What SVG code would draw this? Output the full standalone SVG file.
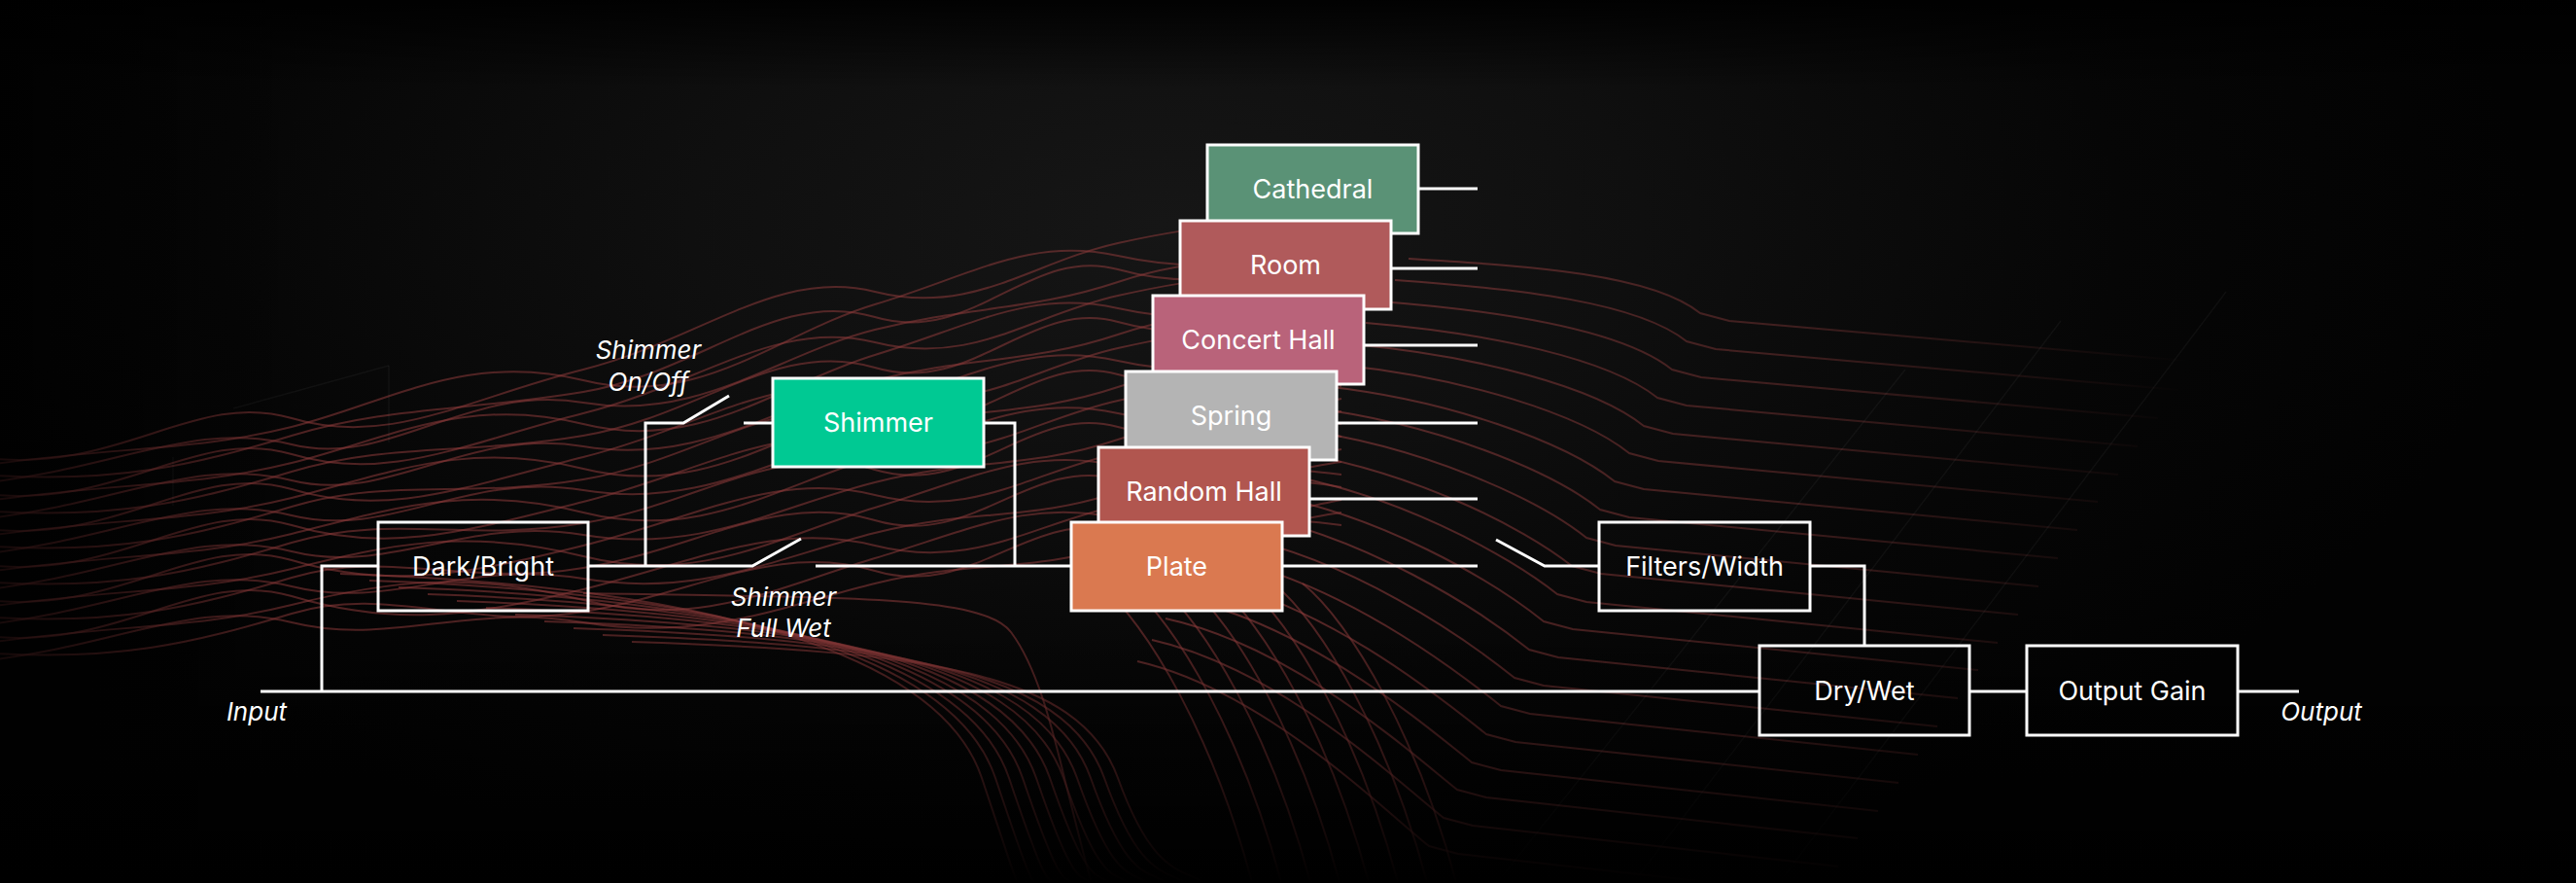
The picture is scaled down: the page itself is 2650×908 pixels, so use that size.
<svg xmlns="http://www.w3.org/2000/svg" width="2650" height="908" viewBox="0 0 2650 908">
<style>
.node-box{stroke:#ffffff;stroke-width:3}
.outline{fill:none}
.lbl{font-family:Inter,"Noto Sans","Liberation Sans",sans-serif;font-size:27px;fill:#ffffff;text-anchor:middle}
.ital{font-family:Inter,"Noto Sans","Liberation Sans",sans-serif;font-size:26px;font-style:italic;fill:#ffffff;text-anchor:middle}
.wire{fill:none;stroke:#ffffff;stroke-width:3;stroke-linecap:butt;stroke-linejoin:miter}
.waveA{fill:none;stroke:#8c3b3b;stroke-width:2;stroke-opacity:0.55}
.waveB{fill:none;stroke:#8c3b3b;stroke-width:2;stroke-opacity:0.55}
.waveC{fill:none;stroke:url(#fadeRight);stroke-width:2}
.grid{fill:none;stroke:#9a9a9a;stroke-width:1.5;stroke-opacity:0.07}
</style>
<defs>
<radialGradient id="glow" gradientUnits="userSpaceOnUse" cx="1200" cy="230" r="1400" gradientTransform="translate(1200 230) scale(1 0.5) translate(-1200 -230)">
<stop offset="0" stop-color="#161616"/>
<stop offset="0.35" stop-color="#0f0f0f"/>
<stop offset="0.7" stop-color="#060606"/>
<stop offset="1" stop-color="#020202"/>
</radialGradient>
<linearGradient id="topFade" x1="0" y1="0" x2="0" y2="1">
<stop offset="0" stop-color="#000" stop-opacity="0.9"/>
<stop offset="0.1" stop-color="#000" stop-opacity="0"/>
</linearGradient>
<linearGradient id="bottomFade" x1="0" y1="0" x2="0" y2="1">
<stop offset="0.7" stop-color="#000" stop-opacity="0"/>
<stop offset="0.86" stop-color="#000" stop-opacity="0.4"/>
<stop offset="1" stop-color="#000" stop-opacity="1"/>
</linearGradient>
<linearGradient id="leftFade" x1="0" y1="0" x2="1" y2="0">
<stop offset="0" stop-color="#000" stop-opacity="0.7"/>
<stop offset="0.12" stop-color="#000" stop-opacity="0"/>
<stop offset="1" stop-color="#000" stop-opacity="0"/>
</linearGradient>
<linearGradient id="fadeRight" gradientUnits="userSpaceOnUse" x1="1350" y1="0" x2="2250" y2="0">
<stop offset="0" stop-color="#8c3b3b" stop-opacity="0.6"/>
<stop offset="0.55" stop-color="#8c3b3b" stop-opacity="0.4"/>
<stop offset="1" stop-color="#8c3b3b" stop-opacity="0"/>
</linearGradient>
</defs>

<g id="background">
<rect width="2650" height="908" fill="url(#glow)"/>
<g id="waves-left">
<path class="waveA" d="M -20,470 C 120,490 200,400 300,430 S 480,410 600,380 S 800,275 900,300 S 1060,270 1150,250 S 1300,225 1380,240"/>
<path class="waveA" d="M -20,479 C 120,459 200,464 300,439 S 480,361 600,391 S 800,343 900,313 S 1060,243 1150,263 S 1300,268 1380,253"/>
<path class="waveA" d="M -20,488 C 120,498 200,478 300,448 S 480,423 600,403 S 800,296 900,326 S 1060,252 1150,277 S 1300,276 1380,266"/>
<path class="waveA" d="M -20,497 C 120,482 200,432 300,457 S 480,394 600,414 S 800,364 900,339 S 1060,320 1150,290 S 1300,269 1380,279"/>
<path class="waveA" d="M -20,507 C 120,527 200,437 300,467 S 480,455 600,425 S 800,327 900,352 S 1060,324 1150,304 S 1300,277 1380,292"/>
<path class="waveA" d="M -20,516 C 120,496 200,501 300,476 S 480,406 600,436 S 800,395 900,365 S 1060,297 1150,317 S 1300,320 1380,305"/>
<path class="waveA" d="M -20,525 C 120,535 200,515 300,485 S 480,468 600,448 S 800,348 900,378 S 1060,306 1150,331 S 1300,328 1380,318"/>
<path class="waveA" d="M -20,534 C 120,519 200,469 300,494 S 480,439 600,459 S 800,416 900,391 S 1060,374 1150,344 S 1300,321 1380,331"/>
<path class="waveA" d="M -20,543 C 120,563 200,473 300,503 S 480,500 600,470 S 800,379 900,404 S 1060,378 1150,358 S 1300,329 1380,344"/>
<path class="waveA" d="M -20,552 C 120,532 200,537 300,512 S 480,452 600,482 S 800,447 900,417 S 1060,351 1150,371 S 1300,372 1380,357"/>
<path class="waveA" d="M -20,561 C 120,571 200,551 300,521 S 480,513 600,493 S 800,400 900,430 S 1060,360 1150,385 S 1300,380 1380,370"/>
<path class="waveA" d="M -20,570 C 120,555 200,505 300,530 S 480,484 600,504 S 800,468 900,443 S 1060,428 1150,398 S 1300,373 1380,383"/>
<path class="waveA" d="M -20,580 C 120,600 200,510 300,540 S 480,546 600,516 S 800,432 900,457 S 1060,432 1150,412 S 1300,382 1380,397"/>
<path class="waveA" d="M -20,589 C 120,569 200,574 300,549 S 480,497 600,527 S 800,500 900,470 S 1060,405 1150,425 S 1300,425 1380,410"/>
<path class="waveA" d="M -20,598 C 120,608 200,588 300,558 S 480,558 600,538 S 800,453 900,483 S 1060,414 1150,439 S 1300,433 1380,423"/>
<path class="waveA" d="M -20,607 C 120,592 200,542 300,567 S 480,530 600,550 S 800,521 900,496 S 1060,482 1150,452 S 1300,426 1380,436"/>
<path class="waveA" d="M -20,616 C 120,636 200,546 300,576 S 480,591 600,561 S 800,484 900,509 S 1060,486 1150,466 S 1300,434 1380,449"/>
<path class="waveA" d="M -20,625 C 120,605 200,610 300,585 S 480,542 600,572 S 800,552 900,522 S 1060,459 1150,479 S 1300,477 1380,462"/>
<path class="waveA" d="M -20,634 C 120,644 200,624 300,594 S 480,604 600,584 S 800,505 900,535 S 1060,468 1150,493 S 1300,485 1380,475"/>
<path class="waveA" d="M -20,643 C 120,628 200,578 300,603 S 480,575 600,595 S 800,573 900,548 S 1060,536 1150,506 S 1300,478 1380,488"/>
<path class="waveA" d="M -20,653 C 120,673 200,583 300,613 S 480,636 600,606 S 800,536 900,561 S 1060,540 1150,520 S 1300,486 1380,501"/>
<path class="waveA" d="M -20,662 C 120,642 200,647 300,622 S 480,587 600,617 S 800,604 900,574 S 1060,513 1150,533 S 1300,529 1380,514"/>
<path class="waveA" d="M -20,671 C 120,681 200,661 300,631 S 480,649 600,629 S 800,557 900,587 S 1060,522 1150,547 S 1300,537 1380,527"/>
<path class="waveA" d="M -20,680 C 120,665 200,615 300,640 S 480,620 600,640 S 800,625 900,600 S 1060,590 1150,560 S 1300,530 1380,540"/>
</g>
<g id="waves-curtain">
<path class="waveB" d="M 350,590 C 650,600 960,650 1010,800 S 1040,890 1050,915"/>
<path class="waveB" d="M 380,597 C 680,607 975,654 1024,800 S 1058,890 1070,915"/>
<path class="waveB" d="M 410,604 C 710,614 990,658 1038,800 S 1076,890 1090,915"/>
<path class="waveB" d="M 440,611 C 740,621 1005,662 1052,800 S 1094,890 1110,915"/>
<path class="waveB" d="M 470,618 C 770,628 1020,666 1066,800 S 1112,890 1130,915"/>
<path class="waveB" d="M 500,625 C 800,635 1035,670 1080,800 S 1130,890 1150,915"/>
<path class="waveB" d="M 530,632 C 830,642 1050,674 1094,800 S 1148,890 1170,915"/>
<path class="waveB" d="M 560,639 C 860,649 1065,678 1108,800 S 1166,890 1190,915"/>
<path class="waveB" d="M 590,646 C 890,656 1080,682 1122,800 S 1184,890 1210,915"/>
<path class="waveB" d="M 620,653 C 920,663 1095,686 1136,800 S 1202,890 1230,915"/>
<path class="waveB" d="M 650,660 C 950,670 1110,690 1150,800 S 1220,890 1250,915"/>
<path class="waveB" d="M 600,610 C 850,615 1010,610 1040,650 S 1085,760 1100,820 S 1120,900 1125,915"/>
<path class="waveB" d="M 1130,600 C 1180,640 1250,760 1290,915"/>
<path class="waveB" d="M 1160,600 C 1210,640 1280,760 1320,915"/>
<path class="waveB" d="M 1190,600 C 1240,640 1310,760 1350,915"/>
<path class="waveB" d="M 1220,600 C 1270,640 1340,760 1380,915"/>
<path class="waveB" d="M 1250,600 C 1300,640 1370,760 1410,915"/>
<path class="waveB" d="M 1280,600 C 1330,640 1400,760 1440,915"/>
<path class="waveB" d="M 1310,600 C 1360,640 1430,760 1470,915"/>
<path class="waveB" d="M 1340,600 C 1390,640 1460,760 1500,915"/>
</g>
<g id="waves-steps">
<path class="waveC" d="M 1449,266 C 1579,274 1699,282 1749,322 L 1779,330 L 2261,372"/>
<path class="waveC" d="M 1435,288 C 1565,297 1685,311 1735,351 L 1765,359 L 2241,401"/>
<path class="waveC" d="M 1420,310 C 1550,320 1670,340 1720,380 L 1750,388 L 2220,430"/>
<path class="waveC" d="M 1405,332 C 1535,343 1655,369 1705,409 L 1735,417 L 2199,459"/>
<path class="waveC" d="M 1391,354 C 1521,366 1641,398 1691,438 L 1721,446 L 2179,488"/>
<path class="waveC" d="M 1376,375 C 1506,388 1626,426 1676,466 L 1706,474 L 2158,516"/>
<path class="waveC" d="M 1361,397 C 1491,411 1611,455 1661,495 L 1691,503 L 2137,545"/>
<path class="waveC" d="M 1346,419 C 1476,435 1596,484 1646,524 L 1676,532 L 2117,574"/>
<path class="waveC" d="M 1332,441 C 1462,458 1582,513 1632,553 L 1662,561 L 2097,603"/>
<path class="waveC" d="M 1317,463 C 1447,481 1567,542 1617,582 L 1647,590 L 2076,632"/>
<path class="waveC" d="M 1302,485 C 1432,504 1552,571 1602,611 L 1632,619 L 2055,661"/>
<path class="waveC" d="M 1288,506 C 1418,526 1538,599 1588,639 L 1618,647 L 2035,689"/>
<path class="waveC" d="M 1273,527 C 1403,549 1523,628 1573,668 L 1603,676 L 2014,718"/>
<path class="waveC" d="M 1258,549 C 1388,572 1508,657 1558,697 L 1588,705 L 1993,747"/>
<path class="waveC" d="M 1244,571 C 1374,595 1494,686 1544,726 L 1574,734 L 1973,776"/>
<path class="waveC" d="M 1229,593 C 1359,618 1479,715 1529,755 L 1559,763 L 1953,805"/>
<path class="waveC" d="M 1214,615 C 1344,642 1464,744 1514,784 L 1544,792 L 1932,834"/>
<path class="waveC" d="M 1199,636 C 1329,664 1449,772 1499,812 L 1529,820 L 1911,862"/>
<path class="waveC" d="M 1185,658 C 1315,687 1435,801 1485,841 L 1515,849 L 1891,891"/>
<path class="waveC" d="M 1170,680 C 1300,710 1420,830 1470,870 L 1500,878 L 1870,920"/>
</g>
<g id="grid-faint">
<path class="grid" d="M 2290,300 L 1830,908"/>
<path class="grid" d="M 2120,330 L 1680,908"/>
<path class="grid" d="M 1960,380 L 1540,908"/>
<path class="grid" d="M 178,470 L 178,520"/>
<path class="grid" d="M 400,376 L 400,455"/>
<path class="grid" d="M 240,420 L 400,376"/>
</g>
<rect width="2650" height="908" fill="url(#leftFade)"/>
<rect width="2650" height="908" fill="url(#topFade)"/>
<rect width="2650" height="908" fill="url(#bottomFade)"/>
</g>

<g id="connectors">
<path class="wire" d="M 268,711 H 1810"/>
<path class="wire" d="M 331,711 V 582 H 389"/>
<path class="wire" d="M 605,582 H 774 L 824,554"/>
<path class="wire" d="M 839,582 H 1102"/>
<path class="wire" d="M 664,582 V 435 H 703 L 750,407"/>
<path class="wire" d="M 765,435 H 795"/>
<path class="wire" d="M 1012,435 H 1044 V 582"/>
<path class="wire" d="M 1459,194 H 1520"/>
<path class="wire" d="M 1431,276 H 1520"/>
<path class="wire" d="M 1402,355 H 1520"/>
<path class="wire" d="M 1375,435 H 1520"/>
<path class="wire" d="M 1347,513 H 1520"/>
<path class="wire" d="M 1319,582 H 1520"/>
<path class="wire" d="M 1539,555 L 1589,582 H 1645"/>
<path class="wire" d="M 1862,582 H 1918 V 664"/>
<path class="wire" d="M 2026,711 H 2085"/>
<path class="wire" d="M 2302,711 H 2365"/>
</g>

<g id="node-dark-bright">
<rect class="node-box outline" x="389" y="537" width="216" height="91"/>
<text class="lbl" x="497" y="592">Dark/Bright</text>
</g>
<g id="node-shimmer">
<rect class="node-box" x="795" y="389" width="217" height="91" fill="#00c993"/>
<text class="lbl" x="903.5" y="444">Shimmer</text>
</g>
<g id="node-cathedral">
<rect class="node-box" x="1242" y="149" width="217" height="91" fill="#5a9276"/>
<text class="lbl" x="1350.5" y="204">Cathedral</text>
</g>
<g id="node-room">
<rect class="node-box" x="1214" y="227" width="217" height="91" fill="#b05a5b"/>
<text class="lbl" x="1322.5" y="282">Room</text>
</g>
<g id="node-concert-hall">
<rect class="node-box" x="1186" y="304" width="217" height="91" fill="#b9637a"/>
<text class="lbl" x="1294.5" y="359">Concert Hall</text>
</g>
<g id="node-spring">
<rect class="node-box" x="1158" y="382" width="217" height="91" fill="#b4b4b4"/>
<text class="lbl" x="1266.5" y="437">Spring</text>
</g>
<g id="node-random-hall">
<rect class="node-box" x="1130" y="460" width="217" height="91" fill="#b1564f"/>
<text class="lbl" x="1238.5" y="515">Random Hall</text>
</g>
<g id="node-plate">
<rect class="node-box" x="1102" y="537" width="217" height="91" fill="#da7950"/>
<text class="lbl" x="1210.5" y="592">Plate</text>
</g>
<g id="node-filters-width">
<rect class="node-box outline" x="1645" y="537" width="217" height="91"/>
<text class="lbl" x="1753.5" y="592">Filters/Width</text>
</g>
<g id="node-dry-wet">
<rect class="node-box outline" x="1810" y="664" width="216" height="92"/>
<text class="lbl" x="1918" y="720">Dry/Wet</text>
</g>
<g id="node-output-gain">
<rect class="node-box outline" x="2085" y="664" width="217" height="92"/>
<text class="lbl" x="2193.5" y="720">Output Gain</text>
</g>

<g id="labels">
<text class="ital" x="667" y="369">Shimmer</text>
<text class="ital" x="667" y="402">On/Off</text>
<text class="ital" x="806" y="623">Shimmer</text>
<text class="ital" x="806" y="655">Full Wet</text>
<text class="ital" x="264" y="741">Input</text>
<text class="ital" x="2388" y="741">Output</text>
</g>
</svg>
